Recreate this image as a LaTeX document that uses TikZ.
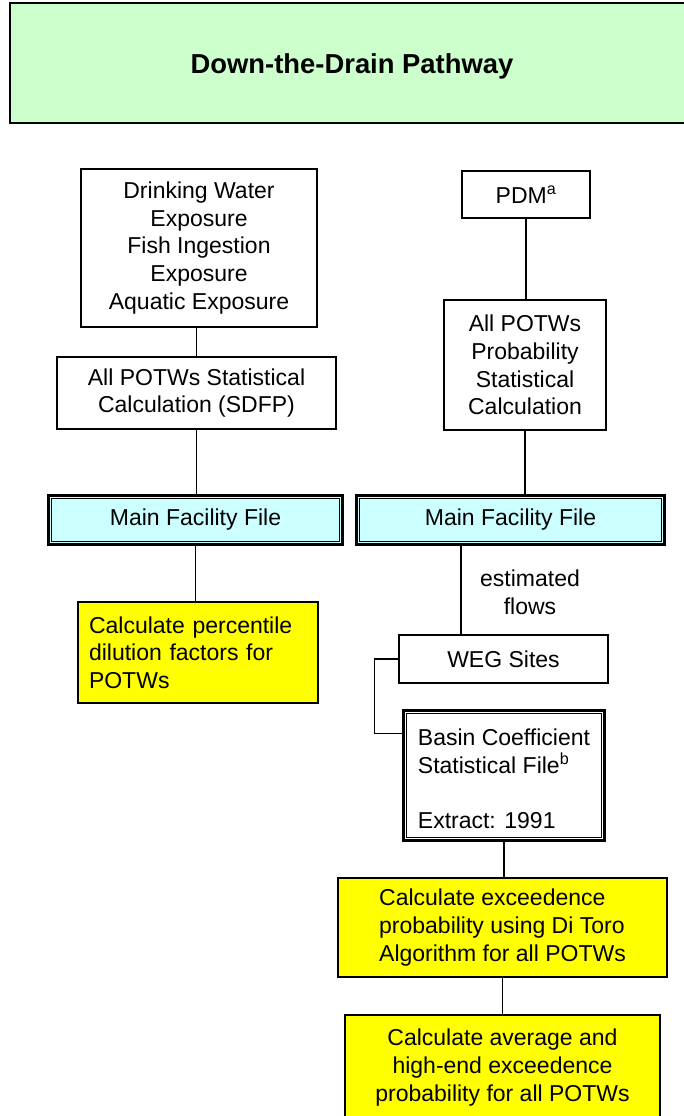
\documentclass[tikz,border=0pt]{standalone}
\usepackage{fontspec}
\setmainfont{Liberation Sans}
\definecolor{titlegreen}{HTML}{CCFFCC}
\definecolor{filecyan}{HTML}{CCFFFF}
\definecolor{calcyellow}{HTML}{FFFF00}
\begin{document}
\begin{tikzpicture}[x=1pt,y=-1pt,
  every node/.style={font=\fontsize{23}{27.7}\selectfont},
  box/.style={draw, line width=1.4pt, rectangle, inner sep=0pt, align=center},
  filebox/.style={draw, line width=2.4pt, rectangle, inner sep=0pt, align=center},
  calc/.style={box, fill=calcyellow},
  link/.style={line width=1.4pt}]
\useasboundingbox (0,0) rectangle (683,1116);

% title banner
\node[draw, line width=2pt, fill=titlegreen, minimum width=710pt, minimum height=119pt] (title) at (365,63) {};
\node[font=\bfseries\fontsize{27.4}{32}\selectfont, anchor=base] (titletext) at (352,73.3) {Down-the-Drain Pathway};

% left branch
\node[box, minimum width=236pt, minimum height=158pt] (dw) at (199,248)
  {Drinking Water\\Exposure\\Fish Ingestion\\Exposure\\Aquatic Exposure};
\node[box, minimum width=279pt, minimum height=72pt] (stat) at (196.5,393)
  {All POTWs Statistical\\Calculation (SDFP)};
\node[filebox, fill=filecyan, minimum width=294pt, minimum height=49pt] (mfl) at (195.5,520)
  {Main Facility File};
\node[calc, align=left, text width=218pt, inner xsep=11pt, minimum height=101pt] (yl) at (198,652.5)
  {Calculate percentile\\dilution factors for\\POTWs};

% right branch
\node[box, minimum width=128pt, minimum height=47pt] (pdm) at (526,194.5)
  {PDM\textsuperscript{a}};
\node[box, minimum width=162pt, minimum height=130pt] (prob) at (525,365)
  {All POTWs\\Probability\\Statistical\\Calculation};
\node[filebox, fill=filecyan, minimum width=308pt, minimum height=49pt] (mfr) at (510.5,520)
  {Main Facility File};
\node (flows) at (530,592) [align=center] {estimated\\flows};
\node[box, minimum width=209pt, minimum height=48pt] (weg) at (503.5,659)
  {WEG Sites};
\node[filebox, fill=white, align=left, minimum width=201pt, minimum height=130pt] (basin) at (504,775.5)
  {\rule{0pt}{23pt}Basin Coefficient\\Statistical File\textsuperscript{b}\\[27.7pt]Extract: 1991};
\node[calc, align=left, minimum width=329pt, minimum height=99pt] (exc) at (502.5,927.5)
  {Calculate exceedence\\probability using Di Toro\\Algorithm for all POTWs};
\node[calc, minimum width=315pt, minimum height=105pt] (avg) at (502.5,1067.5)
  {Calculate average and\\high-end exceedence\\probability for all POTWs};

% inner rules of the file boxes
\foreach \n in {mfl,mfr,basin}
  \draw[line width=1.3pt] ([shift={(4.5,4.5)}]\n.north west) rectangle ([shift={(-4.5,-4.5)}]\n.south east);

% connectors, left branch
\draw[link] (stat.north |- dw.south) -- (stat.north);
\draw[link] (stat.south) -- (stat.south |- mfl.north);
\draw[link] (mfl.south) -- (mfl.south |- yl.north);

% connectors, right branch
\draw[link] (pdm.south) -- (pdm.south |- prob.north);
\draw[link] (prob.south) -- (prob.south |- mfr.north);
\draw[link] ([xshift=-49.5pt]mfr.south) -- ([xshift=-49.5pt]mfr.south |- weg.north);
\draw[link] (weg.west) -- ++(-24,0) |- ([yshift=-24pt]basin.north west);
\draw[link] (basin.south) -- (basin.south |- exc.north);
\draw[link] (exc.south) -- (exc.south |- avg.north);
\end{tikzpicture}
\end{document}
